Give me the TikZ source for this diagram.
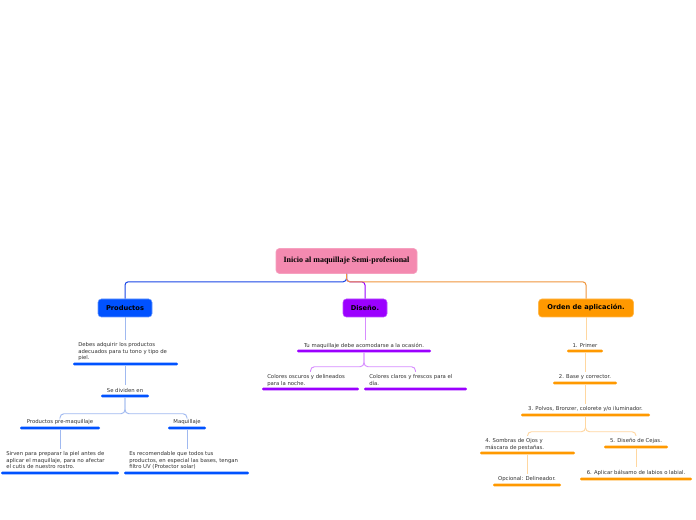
\documentclass[tikz,border=0pt]{standalone}
\usepackage{fontspec}
\setmainfont{DejaVu Sans}
\newfontfamily\titlefont{Liberation Serif}
\definecolor{rootpink}{RGB}{244,138,176}
\definecolor{mblue}{RGB}{0,82,255}
\definecolor{lblue}{RGB}{160,185,240}
\definecolor{dblue}{RGB}{25,70,230}
\definecolor{mpurple}{RGB}{155,0,255}
\definecolor{lpurple}{RGB}{215,140,255}
\definecolor{morange}{RGB}{255,153,0}
\definecolor{lorange}{RGB}{255,215,160}
\definecolor{dorange}{RGB}{240,150,60}
\definecolor{txtgray}{RGB}{50,50,50}
\begin{document}
\begin{tikzpicture}[x=0.75pt,y=-0.75pt,
  box/.style={rounded corners=2.5pt, inner sep=0, font=\fontsize{5}{6}\selectfont\bfseries, text=black},
  txt/.style={font=\fontsize{4}{4.9}\selectfont, inner sep=0, text=txtgray, align=left, yshift=-1.1pt},
  bar/.style={fill=#1, rounded corners=1pt, minimum height=2.2pt, inner sep=0, draw=none},
  conn/.style={line width=0.75pt, rounded corners=2.5pt},
  sub/.style={line width=0.7pt, rounded corners=3pt, shorten >=2pt}]
\useasboundingbox[fill=white] (0,0) rectangle (696,520);

% root and main topics
\node[box, fill=rootpink, draw=rootpink!80, minimum width={141*0.75pt}, minimum height={25*0.75pt}, font=\titlefont\fontsize{6}{7}\selectfont\bfseries] (root) at (346.5,261) {Inicio al maquillaje Semi-profesional};
\node[box, fill=mblue, draw=mblue!60, minimum width={54*0.75pt}, minimum height={18*0.75pt}] (prod) at (125,308) {Productos};
\node[box, fill=mpurple, draw=mpurple!70, minimum width={44*0.75pt}, minimum height={18*0.75pt}] (dis) at (365,308) {Diseño.};
\node[box, fill=morange, draw=morange!70, minimum width={95*0.75pt}, minimum height={18*0.75pt}] (ord) at (586,308) {Orden de aplicación.};

\draw[conn, draw=mpurple] (root.south) -- ++(0,8) -| (dis.north);
\draw[conn, draw=dblue] (root.south) -- ++(0,8) -| (prod.north);
\draw[conn, draw=dorange] (root.south) -- ++(0,8) -| (ord.north);

% Productos subtree
\node[txt, anchor=north west] (t1) at (78,341) {Debes adquirir los productos\\adecuados para tu tono y tipo de\\piel.};
\node[bar=mblue, minimum width={105*0.75pt}] (b1) at (125.5,364) {};
\node[txt] (t2) at (125,389) {Se dividen en};
\node[bar=mblue, minimum width={48*0.75pt}] (b2) at (125,396) {};
\node[txt] (t3) at (60,421) {Productos pre-maquillaje};
\node[bar=mblue, minimum width={80*0.75pt}] (b3) at (60,428) {};
\node[txt] (t4) at (187,421) {Maquillaje};
\node[bar=mblue, minimum width={38*0.75pt}] (b4) at (187,428) {};
\node[txt, anchor=north west] (t5) at (6,450) {Sirven para preparar la piel antes de\\aplicar el maquillaje, para no afectar\\el cutis de nuestro rostro.};
\node[bar=mblue, minimum width={118*0.75pt}] (b5) at (60,473) {};
\node[txt, anchor=north west] (t6) at (129,450) {Es recomendable que todos tus\\productos, en especial las bases, tengan\\filtro UV (Protector solar)};
\node[bar=mblue, minimum width={125*0.75pt}] (b6) at (186.5,473) {};

\draw[sub, draw=lblue] (prod.south) -- (prod.south |- t1.north);
\draw[sub, draw=lblue] (b1.south) -- (b1.south |- t2.north);
\draw[sub, draw=lblue] (b2.south) -- ++(0,16) -| (t3.north);
\draw[sub, draw=lblue] (b2.south) -- ++(0,16) -| (t4.north);
\draw[sub, draw=lblue] (b3.south) -- (b3.south |- t5.north);
\draw[sub, draw=lblue] (b4.south) -- (b4.south |- t6.north);

% Diseno subtree
\node[txt] (t7) at (364,344) {Tu maquillaje debe acomodarse a la ocasión.};
\node[bar=mpurple, minimum width={134*0.75pt}] (b7) at (364,351) {};
\node[txt, anchor=north west] (t8) at (267,373) {Colores oscuros y delineados\\para la noche.};
\node[bar=mpurple, minimum width={97*0.75pt}] (b8) at (310.5,389) {};
\node[txt, anchor=north west] (t9) at (369,373) {Colores claros y frescos para el\\día.};
\node[bar=mpurple, minimum width={103*0.75pt}] (b9) at (415.5,389) {};

\draw[sub, draw=lpurple] (dis.south) -- (dis.south |- t7.north);
\draw[sub, draw=lpurple] (b7.south) -- ++(0,14) -| (b8.center |- t8.north);
\draw[sub, draw=lpurple] (b7.south) -- ++(0,14) -| (b9.center |- t9.north);

% Orden subtree
\node[txt] (t10) at (585,344) {1. Primer};
\node[bar=morange, minimum width={36*0.75pt}] (b10) at (585,351) {};
\node[txt] (t11) at (585,376) {2. Base y corrector.};
\node[bar=morange, minimum width={64*0.75pt}] (b11) at (585,383) {};
\node[txt] (t12) at (585.5,408) {3. Polvos, Bronzer, colorete y/o iluminador.};
\node[bar=morange, minimum width={129*0.75pt}] (b12) at (585.5,415) {};
\node[txt, anchor=north west] (t13) at (485,437) {4. Sombras de Ojos y\\máscara de pestañas.};
\node[bar=morange, minimum width={95*0.75pt}] (b13) at (527.5,453) {};
\node[txt] (t14) at (636,440) {5. Diseño de Cejas.};
\node[bar=morange, minimum width={64*0.75pt}] (b14) at (636,447) {};
\node[txt] (t15) at (527,478) {Opcional: Delineador.};
\node[bar=morange, minimum width={68*0.75pt}] (b15) at (527,485) {};
\node[txt] (t16) at (636,471) {6. Aplicar bálsamo de labios o labial.};
\node[bar=morange, minimum width={112*0.75pt}] (b16) at (636,479) {};

\draw[sub, draw=lorange] (ord.south) -- (ord.south |- t10.north);
\draw[sub, draw=lorange] (b10.south) -- (b10.south |- t11.north);
\draw[sub, draw=lorange] (b11.south) -- (b11.south |- t12.north);
\draw[sub, draw=lorange] (b12.south) -- ++(0,15) -| (b13.center |- t13.north);
\draw[sub, draw=lorange] (b12.south) -- ++(0,15) -| (t14.north);
\draw[sub, draw=lorange] (b13.south) -- (b13.south |- t15.north);
\draw[sub, draw=lorange] (b14.south) -- (b14.south |- t16.north);
\end{tikzpicture}
\end{document}
